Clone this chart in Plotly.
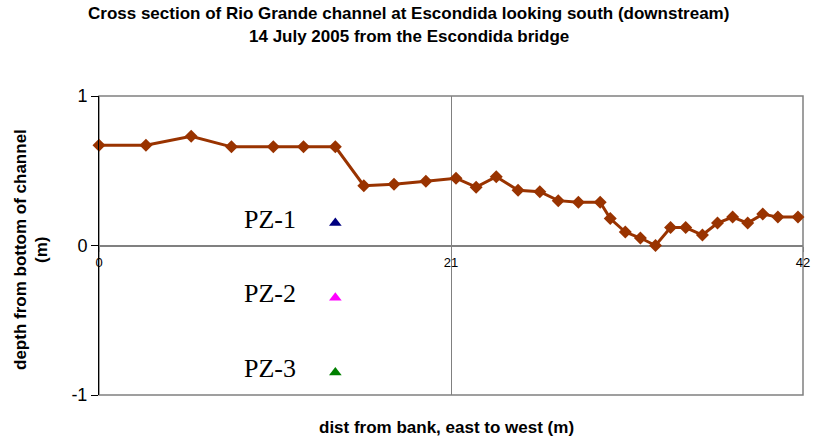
import plotly.graph_objects as go

# Channel cross-section survey: distance from east bank (m) vs depth above channel bottom (m)
dist = [0, 2.8, 5.5, 7.9, 10.4, 12.2, 14.1, 15.8, 17.6, 19.5, 21.3, 22.5, 23.7, 25.0,
        26.3, 27.4, 28.6, 29.9, 30.5, 31.4, 32.3, 33.2, 34.1, 35.0, 36.0, 36.9, 37.8,
        38.7, 39.6, 40.5, 41.7]
depth = [0.67, 0.67, 0.73, 0.66, 0.66, 0.66, 0.66, 0.40, 0.41, 0.43, 0.45, 0.39, 0.46,
         0.37, 0.36, 0.30, 0.29, 0.29, 0.18, 0.09, 0.05, 0.0, 0.12, 0.12, 0.07, 0.15,
         0.19, 0.15, 0.21, 0.19, 0.19]

# Piezometer screens
pz_names = ["PZ-1", "PZ-2", "PZ-3"]
pz_dist = [14.1, 14.1, 14.1]
pz_depth = [0.15, -0.35, -0.85]
pz_colors = ["#000080", "#FF00FF", "#008000"]

x_ticks = [0, 21, 42]
y_ticks = [-1, 0, 1]

FONT = "Liberation Sans, Arial, sans-serif"
SERIF = "Liberation Serif, Times New Roman, serif"
GRAY = "#808080"
TITLE_SIZE = 17

W, H = 816, 445
L, R, T, B = 99, 13, 96, 50
pw = W - L - R
ph = H - T - B


def px_to_paper_x(px):
    return (px - L) / pw


def px_to_paper_y(py):
    return (H - B - py) / ph


fig = go.Figure()

fig.add_trace(go.Scatter(
    x=dist, y=depth, mode="lines+markers",
    line=dict(color="#993300", width=3),
    marker=dict(symbol="diamond", size=10, color="#993300"),
    cliponaxis=False, showlegend=False,
))

for name, px, py, c in zip(pz_names, pz_dist, pz_depth, pz_colors):
    fig.add_trace(go.Scatter(
        x=[px], y=[py], mode="markers",
        marker=dict(symbol="triangle-up", size=11, color=c),
        showlegend=False,
    ))
    fig.add_annotation(x=px, y=py, xref="x", yref="y", text=name, showarrow=False,
                       xanchor="right", yanchor="middle", xshift=-37, yshift=4,
                       font=dict(family=SERIF, size=26, color="black"))

# Plot-area frame
fig.add_shape(type="rect", xref="x domain", yref="y domain", x0=0, x1=1, y0=0, y1=1,
              line=dict(color=GRAY, width=1.5), layer="below")


def label(text, xpx, ypx, angle=0):
    fig.add_annotation(x=px_to_paper_x(xpx), y=px_to_paper_y(ypx), xref="paper", yref="paper",
                       showarrow=False, text="<b>%s</b>" % text, textangle=angle,
                       font=dict(family=FONT, size=TITLE_SIZE, color="black"),
                       xanchor="center", yanchor="middle")


label("Cross section of Rio Grande channel at Escondida looking south (downstream)", 408, 14)
label("14 July 2005 from the Escondida bridge", 409, 37)
label("dist from bank, east to west (m)", 446, 427)
label("depth from bottom of channel", 20, 250, -90)
label("(m)", 41, 250, -90)

fig.update_layout(
    width=W, height=H,
    margin=dict(l=L, r=R, t=T, b=B, pad=0, autoexpand=False),
    plot_bgcolor="white", paper_bgcolor="white",
    xaxis=dict(range=[0, 42], tickvals=x_ticks, ticktext=[str(v) for v in x_ticks],
               showgrid=True, gridcolor=GRAY, gridwidth=1, zeroline=False, showline=False,
               anchor="free", position=0.5, ticks="outside", ticklen=5, tickcolor=GRAY,
               automargin=False,
               tickfont=dict(family=FONT, size=13, color="black")),
    yaxis=dict(range=[-1, 1], tickvals=y_ticks, ticktext=[str(v) for v in y_ticks],
               showgrid=False, zeroline=True, zerolinecolor=GRAY, zerolinewidth=1.5,
               showline=True, linecolor="black", linewidth=1,
               ticks="outside", ticklen=7, tickcolor="black", automargin=False,
               tickfont=dict(family=FONT, size=18, color="black")),
)

fig.write_html("out.html")
